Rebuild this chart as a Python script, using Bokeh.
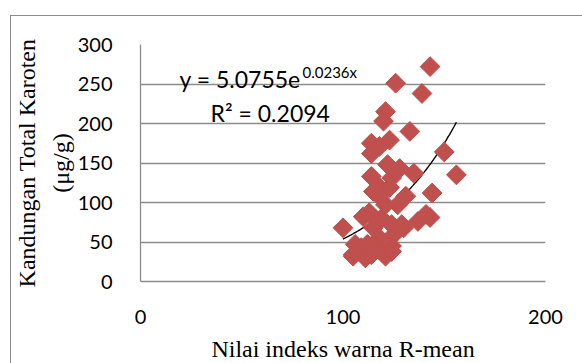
import numpy as np
from bokeh.plotting import figure
from bokeh.models import Label, FixedTicker, Range1d, LinearAxis
from bokeh.embed import file_html
from bokeh.resources import INLINE

# ---- data ----
r_mean = [143, 126, 139, 121, 120, 133, 114, 123, 118, 114, 150, 122, 128, 135, 114,
          156, 124, 144, 118, 131, 115, 118, 123, 127, 121, 100, 110, 113, 143, 137,
          141, 130, 125, 115, 119, 124, 129, 118, 105, 106, 109, 114, 121, 124, 116,
          112, 111, 119, 124, 116, 105]
karoten = [272, 251, 238, 215, 203, 190, 175, 179, 171, 162, 164, 148, 143, 137, 133,
           135, 131, 112, 108, 108, 114, 119, 119, 97, 97, 68, 82, 87, 81, 76,
           85, 68, 59, 68, 80, 72, 72, 55, 34, 47, 43, 34, 32, 45, 45,
           47, 30, 38, 38, 40, 32]
fit_a = 5.0755
fit_b = 0.0236
x_ticks = [0, 100, 200]
y_ticks = [0, 50, 100, 150, 200, 250, 300]

TICK_FONT = "Lato"
TITLE_FONT = "Liberation Serif"
GRID = "#8c8c8c"

p = figure(frame_width=405, frame_height=237, min_border_left=140, min_border_right=37,
           min_border_top=44, min_border_bottom=82, output_backend="svg",
           toolbar_location=None, x_range=Range1d(0, 200), y_range=Range1d(0, 300))
p.outline_line_color = None
p.background_fill_color = "white"
p.border_fill_color = None
# outer chart border (left and top edges visible in the window)
p.styles = {
    "background": ("linear-gradient(#8c8c8c,#8c8c8c) 10px 15px / 1px 500px no-repeat, "
                   "linear-gradient(#8c8c8c,#8c8c8c) 10px 15px / 700px 1px no-repeat, white"),
}

p.xgrid.visible = False
p.ygrid.ticker = FixedTicker(ticks=y_ticks)
p.ygrid.grid_line_color = GRID
p.ygrid.grid_line_width = 1.3

for ax in (p.xaxis[0], p.yaxis[0]):
    ax.axis_line_color = GRID
    ax.axis_line_width = 1.3
    ax.major_tick_line_color = None
    ax.minor_tick_line_color = None
    ax.major_label_text_font = TICK_FONT
    ax.major_label_text_font_size = "20px"
    ax.major_label_text_color = "black"
    ax.axis_label_text_font = TITLE_FONT
    ax.axis_label_text_font_size = "24px"
    ax.axis_label_text_font_style = "normal"
    ax.axis_label_text_color = "black"
p.xaxis.ticker = FixedTicker(ticks=x_ticks)
p.yaxis.ticker = FixedTicker(ticks=y_ticks)
p.xaxis.major_label_standoff = 22
p.yaxis.major_label_standoff = 22
p.xaxis.axis_label = "Nilai indeks warna R-mean"
p.xaxis.axis_label_standoff = 9
p.yaxis.axis_label = "(μg/g)"
p.yaxis.axis_label_standoff = 1

# outer line of the y title
y_title = LinearAxis(axis_label="Kandungan Total Karoten", ticker=FixedTicker(ticks=[]),
                     axis_line_color=None, major_tick_line_color=None,
                     minor_tick_line_color=None, major_label_text_font_size="0px",
                     axis_label_text_font=TITLE_FONT, axis_label_text_font_size="24px",
                     axis_label_text_font_style="normal", axis_label_text_color="black",
                     axis_label_standoff=5)
p.add_layout(y_title, "left")

# trend line from the fitted equation
xs = np.linspace(min(r_mean), max(r_mean), 100)
p.line(xs, fit_a * np.exp(fit_b * xs), line_color="black", line_width=1.4)

p.scatter(r_mean, karoten, marker="square", size=14, angle=np.pi / 4,
          fill_color="#C0504D", line_color="#C0504D")

# equation labels
p.add_layout(Label(x=19.3, y=256, text="y = 5.0755e", text_font=TICK_FONT,
                   text_font_size="23px", text_baseline="alphabetic", text_color="black"))
p.add_layout(Label(x=80.0, y=265, text="0.0236x", text_font=TICK_FONT,
                   text_font_size="15px", text_baseline="alphabetic", text_color="black"))
p.add_layout(Label(x=34.6, y=213, text="R² = 0.2094", text_font=TICK_FONT,
                   text_font_size="23px", text_baseline="alphabetic", text_color="black"))

open("out.html", "w").write(file_html(p, INLINE))
